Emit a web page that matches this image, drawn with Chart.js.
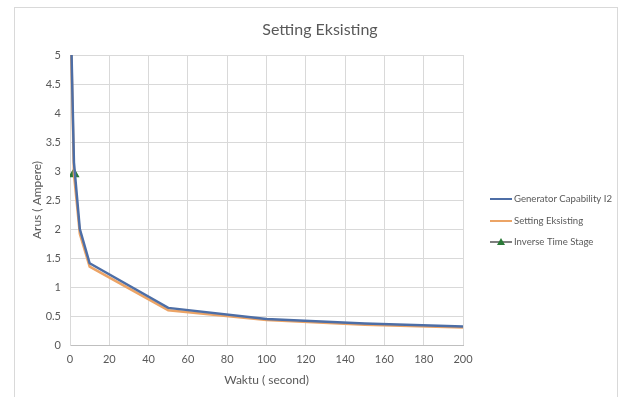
<!DOCTYPE html>
<html>
<head>
<meta charset="utf-8">
<script src="https://cdn.jsdelivr.net/npm/chart.js@4/dist/chart.umd.min.js"></script>
<style>
  html, body { margin: 0; padding: 0; background: #fff; }
  #wrap { width: 620px; height: 397px; position: relative; }
</style>
</head>
<body>
<div id="wrap"><canvas id="chart"></canvas></div>
<script>
// Generator capability (I2) curve
const genTime = [0.8, 2, 5, 10, 50, 100, 150, 200];
const genCurrent = [5, 3.15, 2.0, 1.41, 0.64, 0.45, 0.37, 0.32];

// Existing relay setting curve
const setTime = [0.7, 2, 5, 10, 50, 100, 150, 200];
const setCurrent = [5, 2.95, 1.92, 1.35, 0.6, 0.43, 0.35, 0.3];

// Inverse time stage pickup point
const stageTime = [2];
const stageCurrent = [2.95];

const TITLE = 'Setting Eksisting';
const FONT = 'Lato, "Open Sans", sans-serif';
const TEXT = '#595959';

const BLUE = '#4d6ea6';
const ORANGE = '#eca466';
const GREEN = '#2b7a38';

const toPoints = (xs, ys) => xs.map((x, i) => ({ x, y: ys[i] }));

// frame, title and legend drawn on the canvas
const decorations = {
  id: 'decorations',
  beforeDraw(chart) {
    const c = chart.ctx;
    c.save();
    c.fillStyle = '#fff';
    c.fillRect(0, 0, chart.width, chart.height);
    c.strokeStyle = '#d9d9d9';
    c.lineWidth = 1;
    c.strokeRect(14.5, 7.5, 603, 400);
    c.restore();
  },
  afterDraw(chart) {
    const c = chart.ctx;
    c.save();
    c.fillStyle = TEXT;
    c.font = '16px ' + FONT;
    c.textAlign = 'center';
    c.textBaseline = 'middle';
    c.fillText(TITLE, 320, 30);

    c.font = '9.6px ' + FONT;
    c.textAlign = 'left';
    const rows = [199, 221, 242];
    chart.data.datasets.forEach((ds, i) => {
      const y = rows[i];
      c.strokeStyle = ds.legendLine || ds.borderColor;
      c.lineWidth = 2;
      c.beginPath();
      c.moveTo(490, y);
      c.lineTo(512, y);
      c.stroke();
      if (ds.pointStyle === 'triangle') {
        c.fillStyle = GREEN;
        c.beginPath();
        c.moveTo(501, y - 4);
        c.lineTo(505, y + 3);
        c.lineTo(497, y + 3);
        c.closePath();
        c.fill();
      }
      c.fillStyle = TEXT;
      c.fillText(ds.label, 514, y);
    });
    c.restore();
  }
};

new Chart(document.getElementById('chart'), {
  type: 'line',
  data: {
    datasets: [
      { label: 'Generator Capability I2', data: toPoints(genTime, genCurrent),
        borderColor: BLUE, borderWidth: 2.5, pointRadius: 0, tension: 0 },
      { label: 'Setting Eksisting', data: toPoints(setTime, setCurrent),
        borderColor: ORANGE, borderWidth: 2.5, pointRadius: 0, tension: 0 },
      { label: 'Inverse Time Stage', data: toPoints(stageTime, stageCurrent),
        borderColor: '#7f7f7f', legendLine: '#7f7f7f', borderWidth: 1.5,
        pointStyle: 'triangle', pointRadius: 5, pointBackgroundColor: GREEN,
        pointBorderColor: GREEN, showLine: false }
    ]
  },
  options: {
    responsive: true, maintainAspectRatio: false, animation: false,
    devicePixelRatio: 1,
    layout: { padding: { left: 24, right: 157, top: 55, bottom: 8 } },
    plugins: { legend: { display: false }, title: { display: false }, tooltip: { enabled: false } },
    scales: {
      x: {
        type: 'linear', min: 0, max: 200,
        border: { color: '#bfbfbf' },
        grid: { color: '#d9d9d9', drawTicks: false },
        ticks: { stepSize: 20, padding: 8, color: TEXT, font: { family: FONT, size: 11 } },
        title: { display: true, text: 'Waktu ( second)', color: TEXT,
          font: { family: FONT, size: 12 }, padding: { bottom: 2 } },
        afterFit(scale) { scale.height = 44; }
      },
      y: {
        min: 0, max: 5,
        border: { color: '#d9d9d9' },
        grid: { color: '#d9d9d9', drawTicks: false },
        ticks: { stepSize: 0.5, padding: 9, color: TEXT, font: { family: FONT, size: 11 },
          callback: v => String(v) },
        title: { display: true, text: 'Arus ( Ampere)', color: TEXT,
          font: { family: FONT, size: 12 }, padding: { top: 6 } },
        afterFit(scale) { scale.width = 46; }
      }
    }
  },
  plugins: [decorations]
});
</script>
</body>
</html>
